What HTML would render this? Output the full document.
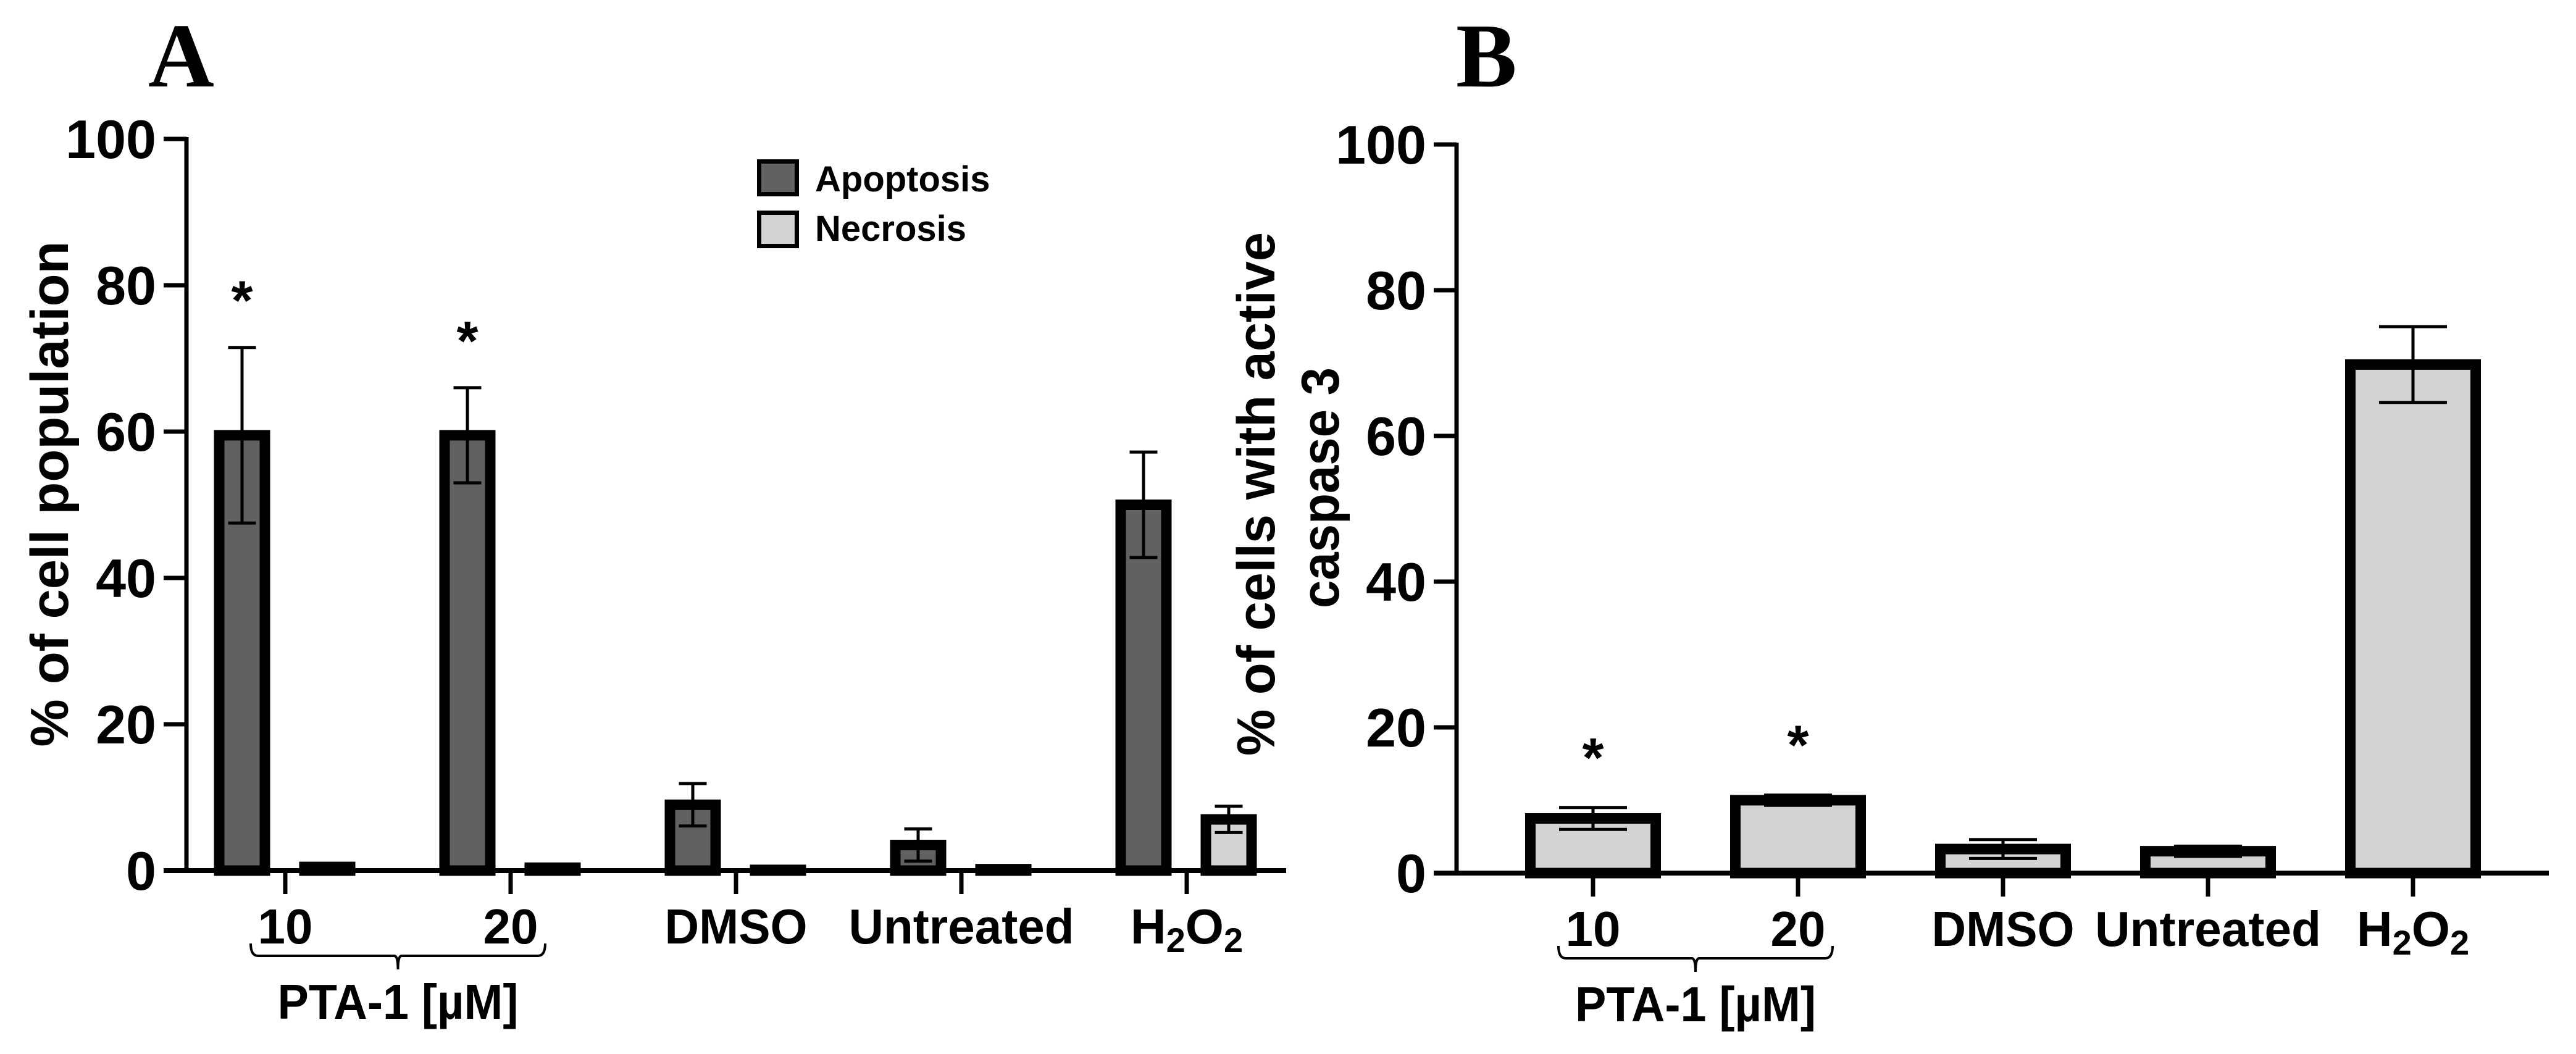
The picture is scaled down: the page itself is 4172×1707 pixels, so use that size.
<!DOCTYPE html>
<html><head><meta charset="utf-8"><style>
html,body{margin:0;padding:0;background:#fff;}
svg{display:block;}
text{font-family:"Liberation Sans",Arial,sans-serif;font-weight:bold;fill:#000;}
</style></head><body>
<svg id="fig" width="4172" height="1707" viewBox="0 0 4172 1707" xmlns="http://www.w3.org/2000/svg">
<text x="240" y="140" style="font-family:'Liberation Serif',serif;font-size:148px">A</text>
<text x="2358" y="140" style="font-family:'Liberation Serif',serif;font-size:148px">B</text>
<g id="chartA"></g>
<g id="chartB"></g>
</svg>
<script>
// Panel A data
const catsA = ["10", "20", "DMSO", "Untreated", "H2O2"];
const apoptosisA = [59.5, 59.5, 9.0, 3.5, 50.0];
const apoptosisErrA = [12.0, 6.5, 2.9, 2.2, 7.2];
const necrosisA = [0.5, 0.4, 0.1, 0.2, 7.0];
const necrosisErrA = [0.3, 0.2, 0.05, 0.1, 1.8];
const sigA = [1, 1, 0, 0, 0];
// Panel B data
const catsB = ["10", "20", "DMSO", "Untreated", "H2O2"];
const caspaseB = [7.5, 10.0, 3.3, 3.0, 69.8];
const caspaseErrB = [1.5, 0.7, 1.3, 0.7, 5.2];
const sigB = [1, 1, 0, 0, 0];
const yTicks = [0, 20, 40, 60, 80, 100];

const NS = "http://www.w3.org/2000/svg";
function mk(parent, tag, attrs, txt) {
  const e = document.createElementNS(NS, tag);
  for (const k in attrs) e.setAttribute(k, attrs[k]);
  if (txt !== undefined) e.textContent = txt;
  parent.appendChild(e);
  return e;
}
function labelText(parent, x, y, s, size, tl) {
  const t = mk(parent, "text", {x: x, y: y, "text-anchor": "middle", "font-size": size});
  if (s === "H2O2") {
    mk(t, "tspan", {}, "H");
    mk(t, "tspan", {dy: 14, "font-size": size * 0.7}, "2");
    mk(t, "tspan", {dy: -14}, "O");
    mk(t, "tspan", {dy: 14, "font-size": size * 0.7}, "2");
  } else {
    t.textContent = s;
    if (tl) { t.setAttribute("textLength", tl); t.setAttribute("lengthAdjust", "spacingAndGlyphs"); }
  }
  return t;
}

function drawAxes(g, ax) {
  const y = v => ax.y0 - (v / 100) * (ax.y0 - ax.y100);
  const yl = mk(g, "line", {x1: ax.x0, y1: ax.y100 - 3, x2: ax.x0, y2: ax.y0 + 3, stroke: "#000", "stroke-width": 7});
  
  
  yTicks.forEach(v => {
    const tk = mk(g, "line", {x1: ax.x0 - 37, y1: y(v), x2: ax.x0, y2: y(v), stroke: "#000", "stroke-width": 7});
    
    
    const tl = mk(g, "text", {x: ax.x0 - 49, y: y(v) + 31, "text-anchor": "end", "font-size": 88}, String(v));
    
    
  });
  const xl = mk(g, "line", {x1: ax.x0 - 37, y1: ax.y0, x2: ax.xEnd, y2: ax.y0, stroke: "#000", "stroke-width": 8});
  
  
  return y;
}
function drawBar(g, cx, w, val, err, fill, y, capW, name) {
  const top = y(val), base = y(0);
  const r = mk(g, "rect", {x: cx - w / 2 + 8.5, y: top, width: w - 17, height: Math.max(base - top, 0.5), fill: fill, stroke: "#000", "stroke-width": 17});
  
  
  const e = mk(g, "g", {stroke: "#000", "stroke-width": 5});
  
  
  mk(e, "line", {x1: cx, y1: y(val + err), x2: cx, y2: y(val - err)});
  mk(e, "line", {x1: cx - capW / 2, y1: y(val + err), x2: cx + capW / 2, y2: y(val + err)});
  if (val - err > 0.8) mk(e, "line", {x1: cx - capW / 2, y1: y(val - err), x2: cx + capW / 2, y2: y(val - err)});
}
function drawCats(g, ax, cats, widths) {
  cats.forEach((c, i) => {
    const cx = ax.t0 + i * ax.step;
    const tk = mk(g, "line", {x1: cx, y1: ax.y0, x2: cx, y2: ax.y0 + 38, stroke: "#000", "stroke-width": 7});
    
    
    const t = labelText(g, cx, ax.y0 + 118, c, 80, widths[i]);
    
    
  });
  const x1 = ax.t0 - 56, x2 = ax.t0 + ax.step + 56, mid = (x1 + x2) / 2, by = ax.y0 + 138;
  const br = mk(g, "path", {d: `M${x1},${by - 20} Q${x1},${by} ${x1 + 12},${by} L${mid - 6},${by} Q${mid},${by} ${mid},${by + 22} Q${mid},${by} ${mid + 6},${by} L${x2 - 12},${by} Q${x2},${by} ${x2},${by - 20}`, fill: "none", stroke: "#000", "stroke-width": 4});
  
  
  const pt = mk(g, "text", {x: mid, y: ax.y0 + 240, "text-anchor": "middle", "font-size": 80, textLength: 390, lengthAdjust: "spacingAndGlyphs"}, "PTA-1 [µM]");
  
  
}

// ---- Panel A ----
(function () {
  const g = document.getElementById("chartA");
  const ax = {x0: 302, xEnd: 2083, y0: 1410, y100: 225, t0: 462, step: 365};
  const y = drawAxes(g, ax);
  catsA.forEach((c, i) => {
    const t = ax.t0 + i * ax.step;
    drawBar(g, t - 70, 91, apoptosisA[i], apoptosisErrA[i], "#616161", y, 45, "apoptosis-bar-" + i);
    drawBar(g, t + 68, 91, necrosisA[i], necrosisErrA[i], "#d3d3d3", y, 45, "necrosis-bar-" + i);
    if (sigA[i]) {
      const s = mk(g, "text", {x: t - 70, y: y(apoptosisA[i] + apoptosisErrA[i]) - 45, "text-anchor": "middle", "font-size": 90}, "*");
      
      
    }
  });
  drawCats(g, ax, catsA, [null, null, 231, 365, null]);
  const yt = mk(g, "text", {transform: "translate(110,800) rotate(-90)", "text-anchor": "middle", "font-size": 86, textLength: 819, lengthAdjust: "spacingAndGlyphs"}, "% of cell population");
  
  
  const lg = mk(g, "g", {});
  
  
  mk(lg, "rect", {x: 1229.5, y: 261.5, width: 61, height: 53, fill: "#616161", stroke: "#000", "stroke-width": 7});
  mk(lg, "text", {x: 1320, y: 310, "font-size": 58}, "Apoptosis");
  mk(lg, "rect", {x: 1229.5, y: 344.5, width: 61, height: 54, fill: "#d3d3d3", stroke: "#000", "stroke-width": 7});
  mk(lg, "text", {x: 1320, y: 390, "font-size": 58}, "Necrosis");
})();

// ---- Panel B ----
(function () {
  const g = document.getElementById("chartB");
  const ax = {x0: 2359, xEnd: 4128, y0: 1414, y100: 234, t0: 2580, step: 332};
  const y = drawAxes(g, ax);
  catsB.forEach((c, i) => {
    const t = ax.t0 + i * ax.step;
    drawBar(g, t, 220, caspaseB[i], caspaseErrB[i], "#d3d3d3", y, 110, "caspase-bar-" + i);
    if (sigB[i]) {
      const s = mk(g, "text", {x: t, y: y(caspaseB[i] + caspaseErrB[i]) - 50, "text-anchor": "middle", "font-size": 90}, "*");
      
      
    }
  });
  drawCats(g, ax, catsB, [null, null, 231, 366, null]);
  const t1 = mk(g, "text", {transform: "translate(2064,800) rotate(-90)", "text-anchor": "middle", "font-size": 86, textLength: 848, lengthAdjust: "spacingAndGlyphs"}, "% of cells with active");
  
  
  const t2 = mk(g, "text", {transform: "translate(2168,790) rotate(-90)", "text-anchor": "middle", "font-size": 86, textLength: 390, lengthAdjust: "spacingAndGlyphs"}, "caspase 3");
  
  
})();
</script>
</body></html>
